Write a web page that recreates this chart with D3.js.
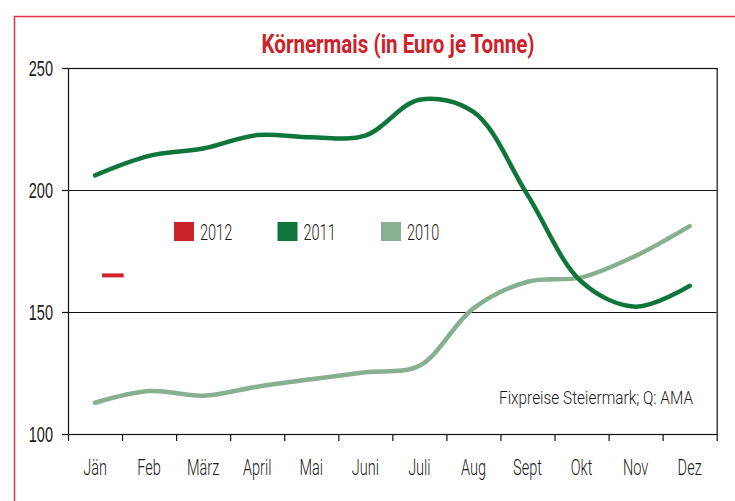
<!DOCTYPE html>
<html>
<head>
<meta charset="utf-8">
<script src="https://cdn.jsdelivr.net/npm/d3@7"></script>
<style>
  body { margin: 0; background: #fff; }
  svg { display: block; font-family: "Roboto", "Liberation Sans", sans-serif; }
</style>
</head>
<body>
<svg width="735" height="501"></svg>
<script>
const months = ["Jän", "Feb", "März", "April", "Mai", "Juni", "Juli", "Aug", "Sept", "Okt", "Nov", "Dez"];
const values2011 = [206, 214, 217, 222.5, 221.6, 222.3, 237, 232, 198, 162.4, 152.2, 160.7];
const values2010 = [112.8, 117.6, 115.7, 119.4, 122.4, 125.3, 128, 151.5, 162.4, 164.2, 173, 185.2];
const values2012 = [165];
const yTicks = [100, 150, 200, 250];
const seriesNames = ["2012", "2011", "2010"];
const seriesColors = ["#cc2229", "#0f753b", "#86b08f"];

const margin = { top: 68, right: 18.3, bottom: 67, left: 68 };
const width = 735 - margin.left - margin.right;
const height = 501 - margin.top - margin.bottom;

// squeeze text horizontally to mimic the condensed typeface
function condense(sel, k) {
    sel.each(function () {
        const w = this.getComputedTextLength();
        d3.select(this)
            .attr("textLength", w * k)
            .attr("lengthAdjust", "spacingAndGlyphs");
    });
}

const svg = d3.select("svg");

// red frame around the whole chart
svg.append("rect")
    .attr("x", 14.5).attr("y", 16.5)
    .attr("width", 740).attr("height", 500)
    .attr("fill", "none")
    .attr("stroke", "#e2343e")
    .attr("stroke-width", 1.5);

svg.append("text")
    .attr("x", 398).attr("y", 53)
    .attr("text-anchor", "middle")
    .attr("fill", "#cc2229")
    .attr("font-weight", "bold")
    .attr("font-size", 25)
    .attr("textLength", 273)
    .attr("lengthAdjust", "spacingAndGlyphs")
    .text("Körnermais (in Euro je Tonne)");

const g = svg.append("g")
    .attr("transform", `translate(${margin.left},${margin.top})`);

const x = d3.scaleBand()
    .domain(months)
    .range([0, width]);

const y = d3.scaleLinear()
    .domain([100, 250])
    .range([height, 0]);

const color = d3.scaleOrdinal()
    .domain(seriesNames)
    .range(seriesColors);

// gridlines
g.append("g")
    .selectAll("line")
    .data(yTicks)
    .join("line")
    .attr("x1", 0).attr("x2", width)
    .attr("y1", d => Math.round(y(d)) + 0.5).attr("y2", d => Math.round(y(d)) + 0.5)
    .attr("stroke", "#111")
    .attr("stroke-width", 1);

// plot frame
g.append("rect")
    .attr("x", 0.5).attr("y", 0.5)
    .attr("width", width).attr("height", height)
    .attr("fill", "none")
    .attr("stroke", "#111")
    .attr("stroke-width", 1.2);

// y axis
const yAxis = g.append("g")
    .call(d3.axisLeft(y).tickValues(yTicks).tickSize(6).tickPadding(9));
yAxis.select(".domain").remove();
yAxis.selectAll("line").attr("stroke", "#111").attr("stroke-width", 1.2);
yAxis.selectAll("text")
    .attr("font-size", 22)
    .attr("font-weight", 300)
    .attr("fill", "#1a1a1a")
    .attr("font-family", null)
    .call(condense, 0.66);

// x axis: ticks at band edges, labels centred in bands
const edges = months.map(m => x(m)).concat([width]);
g.append("g")
    .selectAll("line")
    .data(edges)
    .join("line")
    .attr("x1", d => d + 0.5).attr("x2", d => d + 0.5)
    .attr("y1", height).attr("y2", height + 7)
    .attr("stroke", "#111")
    .attr("stroke-width", 1.2);

g.append("g")
    .selectAll("text")
    .data(months)
    .join("text")
    .attr("x", d => x(d) + x.bandwidth() / 2)
    .attr("y", height + 41)
    .attr("text-anchor", "middle")
    .attr("font-size", 22)
    .attr("font-weight", 300)
    .attr("fill", "#1a1a1a")
    .text(d => d)
    .call(condense, 0.66);

const line = d3.line()
    .x((d, i) => x(months[i]) + x.bandwidth() / 2)
    .y(d => y(d))
    .curve(d3.curveCatmullRom.alpha(0.5));

g.append("path")
    .datum(values2010)
    .attr("d", line)
    .attr("fill", "none")
    .attr("stroke", color("2010"))
    .attr("stroke-width", 4.5)
    .attr("stroke-linecap", "round");

g.append("path")
    .datum(values2011)
    .attr("d", line)
    .attr("fill", "none")
    .attr("stroke", color("2011"))
    .attr("stroke-width", 4.5)
    .attr("stroke-linecap", "round");

// 2012 has only January: drawn as a short dash
g.selectAll(".dash2012")
    .data(values2012)
    .join("line")
    .attr("class", "dash2012")
    .attr("x1", (d, i) => x(months[i]) + x.bandwidth() * 0.63)
    .attr("x2", (d, i) => x(months[i]) + x.bandwidth() * 1.03)
    .attr("y1", d => y(d)).attr("y2", d => y(d))
    .attr("stroke", color("2012"))
    .attr("stroke-width", 4);

// legend
const legend = svg.append("g")
    .selectAll("g")
    .data(seriesNames)
    .join("g")
    .attr("transform", (d, i) => `translate(${174 + i * 103.5},222)`);

legend.append("rect")
    .attr("width", 20).attr("height", 19)
    .attr("fill", d => color(d));

legend.append("text")
    .attr("x", 26).attr("y", 18)
    .attr("font-size", 22)
    .attr("font-weight", 300)
    .attr("fill", "#1a1a1a")
    .text(d => d)
    .call(condense, 0.66);

svg.append("text")
    .attr("x", 693).attr("y", 404)
    .attr("text-anchor", "end")
    .attr("font-size", 19)
    .attr("font-weight", 300)
    .attr("fill", "#1a1a1a")
    .attr("textLength", 194)
    .attr("lengthAdjust", "spacingAndGlyphs")
    .text("Fixpreise Steiermark; Q: AMA");
</script>
</body>
</html>
